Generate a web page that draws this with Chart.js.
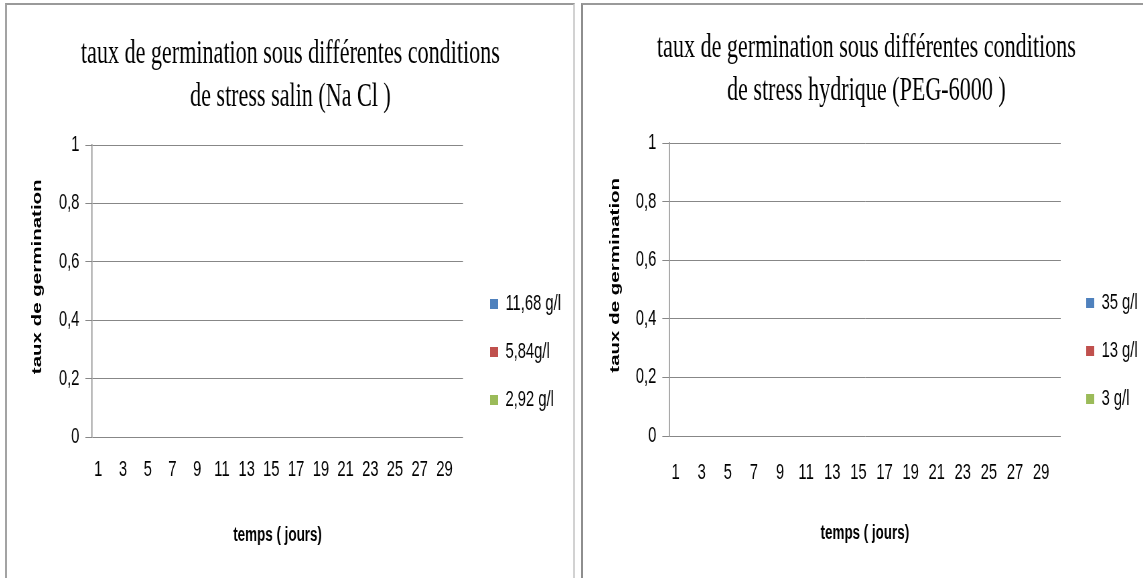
<!DOCTYPE html>
<html>
<head>
<meta charset="utf-8">
<script src="https://cdn.jsdelivr.net/npm/chart.js@4/dist/chart.umd.min.js"></script>
<style>
  html, body { margin: 0; padding: 0; background: #fff; width: 1143px; height: 578px; overflow: hidden; }
  .panel { position: absolute; overflow: hidden; background: #fff; }
  #p1 { left: 5px; top: 3px; width: 566px; height: 600px;
        border-left: 2px solid #a3a3a3; border-top: 2px solid #9a9a9a; border-right: 2px solid #d2d2d2; }
  #p2 { left: 581px; top: 3px; width: 567px; height: 600px;
        border-left: 2px solid #8e8e8e; border-top: 2px solid #9a9a9a; }
  /* charts are laid out on a wider canvas and narrowed horizontally */
  .panel canvas { position: absolute; left: 0; top: 0; transform: scaleX(0.67); transform-origin: 0 0; }
</style>
</head>
<body>
<div class="panel" id="p1"><canvas id="c1" width="846" height="578"></canvas></div>
<div class="panel" id="p2"><canvas id="c2" width="846" height="578"></canvas></div>
<script>
// Days of the germination test
const days = [1, 2, 3, 4, 5, 6, 7, 8, 9, 10, 11, 12, 13, 14, 15,
              16, 17, 18, 19, 20, 21, 22, 23, 24, 25, 26, 27, 28, 29, 30];

// Y axis tick labels (French decimal comma)
const yTickLabels = ['0', '0,2', '0,4', '0,6', '0,8', '1'];

// Salt stress (NaCl)
const salinTitle = ['taux de germination sous différentes conditions', 'de stress salin (Na Cl )'];
const salinLabels = ['11,68 g/l', '5,84g/l', '2,92 g/l'];
const salin1168 = [0, 0, 0, 0, 0, 0, 0, 0, 0, 0, 0, 0, 0, 0, 0, 0, 0, 0, 0, 0, 0, 0, 0, 0, 0, 0, 0, 0, 0, 0];
const salin584  = [0, 0, 0, 0, 0, 0, 0, 0, 0, 0, 0, 0, 0, 0, 0, 0, 0, 0, 0, 0, 0, 0, 0, 0, 0, 0, 0, 0, 0, 0];
const salin292  = [0, 0, 0, 0, 0, 0, 0, 0, 0, 0, 0, 0, 0, 0, 0, 0, 0, 0, 0, 0, 0, 0, 0, 0, 0, 0, 0, 0, 0, 0];

// Water stress (PEG-6000)
const hydriqueTitle = ['taux de germination sous différentes conditions', 'de stress hydrique (PEG-6000 )'];
const hydriqueLabels = ['35 g/l', '13 g/l', '3 g/l'];
const peg35 = [0, 0, 0, 0, 0, 0, 0, 0, 0, 0, 0, 0, 0, 0, 0, 0, 0, 0, 0, 0, 0, 0, 0, 0, 0, 0, 0, 0, 0, 0];
const peg13 = [0, 0, 0, 0, 0, 0, 0, 0, 0, 0, 0, 0, 0, 0, 0, 0, 0, 0, 0, 0, 0, 0, 0, 0, 0, 0, 0, 0, 0, 0];
const peg3  = [0, 0, 0, 0, 0, 0, 0, 0, 0, 0, 0, 0, 0, 0, 0, 0, 0, 0, 0, 0, 0, 0, 0, 0, 0, 0, 0, 0, 0, 0];

const seriesColors = ['#4F81BD', '#C0504D', '#9BBB59'];
const SANS = '"Liberation Sans", Arial, sans-serif';
const SERIF = '"Liberation Serif", "Times New Roman", serif';
const GRID = '#878787';
const CANVAS_W = 846;

function germinationChart(canvasId, title, labels, series, L) {
  return new Chart(document.getElementById(canvasId), {
    type: 'bar',
    data: {
      labels: days,
      datasets: series.map((values, i) => ({
        label: labels[i],
        data: values,
        backgroundColor: seriesColors[i],
        borderWidth: 0
      }))
    },
    options: {
      responsive: false,
      animation: false,
      devicePixelRatio: 1,
      layout: { padding: 0 },
      plugins: {
        title: {
          display: true,
          text: title,
          color: '#000',
          font: { family: SERIF, size: 33, weight: 'normal', lineHeight: 1.3 },
          padding: { top: L.titleTop, bottom: L.titleBottom }
        },
        legend: {
          display: true,
          position: 'right',
          align: 'end',
          fullSize: false,
          maxWidth: 400,
          labels: {
            boxWidth: 12,
            boxHeight: 10,
            padding: 26,
            color: '#000',
            font: { family: SANS, size: 22 }
          }
        },
        tooltip: { enabled: false }
      },
      scales: {
        x: {
          type: 'category',
          offset: true,
          grid: { display: false, drawTicks: false },
          border: { display: false },
          ticks: {
            autoSkip: false,
            maxRotation: 0,
            minRotation: 0,
            padding: L.xTickPad,
            color: '#000',
            font: { family: SANS, size: 22 },
            callback: (v, i) => (i % 2 === 0 ? String(days[i]) : '')
          },
          title: {
            display: true,
            text: 'temps ( jours)',
            color: '#000',
            font: { family: SANS, size: 20, weight: 'bold' },
            padding: { top: 0, bottom: L.xTitleBottom }
          },
          afterFit: (s) => { s.height = L.xHeight; }
        },
        y: {
          min: 0,
          max: 1,
          ticks: {
            stepSize: 0.2,
            padding: 9,
            color: '#000',
            font: { family: SANS, size: 22 },
            callback: (v) => yTickLabels[Math.round(v * 5)]
          },
          grid: { color: GRID, lineWidth: 1, drawTicks: true, tickLength: 10 },
          border: { display: true, color: GRID, width: 1.5 },
          title: {
            display: true,
            text: '     taux de germination',
            color: '#000',
            font: { family: SANS, size: 20.5, weight: 'bold' },
            padding: { top: L.yTitlePad, bottom: 0 }
          },
          afterFit: (s) => { s.width = L.yWidth; }
        },
        // blank band between the plot and the legend
        gap: {
          type: 'linear',
          position: 'right',
          display: true,
          weight: 0,
          grid: { display: false },
          border: { display: false },
          ticks: { display: false },
          afterFit: (s) => { s.width = L.gap; }
        },
        // blank band filling the rest of the panel to the right of the legend
        edge: {
          type: 'linear',
          position: 'right',
          display: true,
          weight: 2000,
          grid: { display: false },
          border: { display: false },
          ticks: { display: false },
          afterFit: (s) => {
            const lw = s.chart.legend ? s.chart.legend.width : 0;
            s.width = Math.max(0, CANVAS_W - L.plotRight - L.gap - lw);
          }
        }
      }
    }
  });
}

germinationChart('c1', salinTitle, salinLabels, [salin1168, salin584, salin292], {
  titleTop: 27.5, titleBottom: 26.7,
  xTickPad: 20, xTitleBottom: 36, xHeight: 146,
  yTitlePad: 33.5, yWidth: 127, gap: 14.4, plotRight: 680.6
});

germinationChart('c2', hydriqueTitle, hydriqueLabels, [peg35, peg13, peg3], {
  titleTop: 21.5, titleBottom: 30.7,
  xTickPad: 24, xTitleBottom: 38, xHeight: 147,
  yTitlePad: 35.7, yWidth: 128.4, gap: 12, plotRight: 713
});
</script>
</body>
</html>
